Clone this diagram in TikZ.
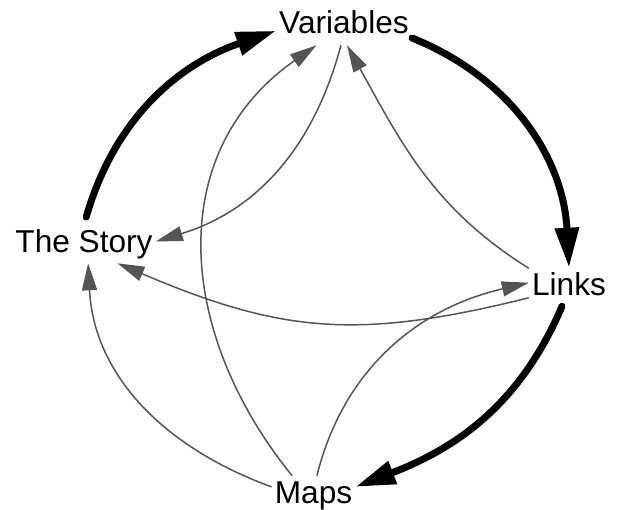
\documentclass[tikz,border=0pt]{standalone}
\usepackage{fontspec}
\setmainfont{Liberation Sans}
\usetikzlibrary{arrows.meta,positioning,calc}
\definecolor{linkgray}{RGB}{85,85,85}
\tikzset{
  topic/.style={inner xsep=0.075cm, inner ysep=0.1cm, text height=0.575cm,
    text depth=0.175cm, anchor=base, font=\fontsize{22.5}{27}\selectfont},
  mainflow/.style={line width=0.175cm, line cap=round,
    -{Triangle[length=1cm,width=0.575cm]}},
  sideflow/.style={linkgray, line width=0.0375cm,
    -{Triangle[length=0.675cm,width=0.375cm]}},
}

\begin{document}
\begin{tikzpicture}
\useasboundingbox (0,0) rectangle (15.45,12.725);
\node[topic] (var) at (8.6,11.875) {Variables};
\node[topic] (story) at (2.1,6.425) {The Story};
\node[topic] (links) at (14.225,5.35) {Links};
\node[topic] (maps) at (7.8375,0.15) {Maps};
% the main cycle
\draw[mainflow, shorten <=0.2cm] (story.north) to[out=74,in=199] (var.184);
\draw[mainflow] (var.-10) to[out=-22,in=93] (links.north);
\draw[mainflow] (links.250) to[out=247,in=21] (maps.11);
% cross links
\draw[sideflow] (maps.169) to[out=160,in=273] (story.-78);
\draw[sideflow] (maps.138) to[out=129,in=215,looseness=1.1] (var.215);
\draw[sideflow] (var.261) to[out=255,in=17] (story.2);
\draw[sideflow] (links.155) to[out=148,in=299] (var.279);
\draw[sideflow] (links.195) to[out=194,in=337,looseness=1.1] (story.-30);
\draw[sideflow] (maps.80) to[out=76,in=193] (links.174);
\end{tikzpicture}
\end{document}
